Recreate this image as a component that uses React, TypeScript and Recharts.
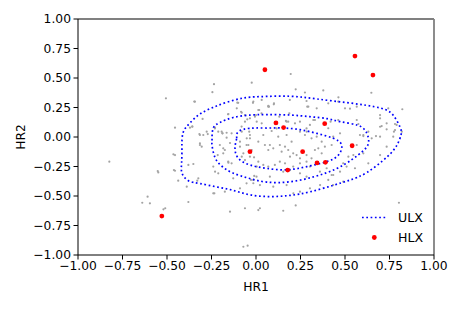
import React from 'react';
import { ScatterChart, Scatter, XAxis, YAxis, ReferenceLine, Legend } from 'recharts';

const axisTicks = [-1, -0.75, -0.5, -0.25, 0, 0.25, 0.5, 0.75, 1];

const ulxPoints: [number, number][] = [
  [-0.10, 0.29], [-0.015, 0.30], [0.10, 0.277], [0.19, 0.314], [0.284, 0.305], [0.341, 0.243], [0.462, 0.30], [0.50, 0.243],
  [-0.30, 0.153], [-0.062, 0.186], [0.018, 0.229], [0.069, 0.257], [0.187, 0.201], [0.131, 0.172], [0.168, 0.136], [0.181, 0.13],
  [0.247, 0.13], [0.284, 0.073], [0.303, 0.102], [0.331, 0.144], [0.419, 0.13], [0.462, 0.144], [-0.231, 0.073], [-0.212, 0.045],
  [-0.188, 0.031], [-0.165, -0.006], [-0.137, 0.031], [-0.081, 0.088], [-0.062, 0.13], [-0.034, 0.158], [-0.006, 0.172], [0.031, 0.201],
  [0.041, 0.017], [0.088, 0.051], [0.116, 0.073], [0.125, 0.003], [0.172, 0.017], [0.20, -0.04], [0.247, 0.045], [0.275, 0.017],
  [0.312, -0.011], [0.341, 0.003], [0.369, -0.04], [0.387, -0.082], [0.425, -0.068], [0.434, 0.003], [-0.09, -0.04], [-0.053, -0.068],
  [-0.034, -0.011], [0.013, -0.04], [0.05, -0.068], [0.078, -0.068], [0.069, -0.11], [0.097, -0.096], [0.134, -0.068], [0.163, -0.082],
  [0.144, -0.124], [0.181, -0.11], [0.209, -0.138], [0.191, -0.167], [0.228, -0.153], [0.247, -0.181], [0.284, -0.153], [0.331, -0.11],
  [0.35, -0.096], [0.369, -0.138], [-0.184, -0.096], [-0.203, -0.068], [-0.175, -0.11], [-0.156, -0.209], [-0.137, -0.223], [-0.071, -0.138],
  [-0.062, -0.195], [-0.034, -0.167], [0.013, -0.209], [0.041, -0.237], [0.069, -0.251], [0.106, -0.237], [0.134, -0.209], [0.163, -0.223],
  [0.209, -0.251], [0.247, -0.223], [0.284, -0.209], [0.303, -0.251], [0.312, -0.181], [0.397, -0.265], [0.425, -0.322], [0.472, -0.294],
  [0.509, -0.251], [-0.296, 0.017], [-0.315, -0.068], [-0.24, -0.251], [-0.212, -0.308], [-0.128, -0.35], [-0.015, -0.364], [0.003, -0.336],
  [0.078, -0.336], [0.153, -0.294], [0.191, -0.28], [0.247, -0.308], [0.284, -0.336], [0.359, -0.294], [0.406, -0.364], [0.49, -0.378],
  [-0.24, -0.477], [-0.175, -0.463], [-0.09, -0.435], [-0.053, -0.393], [0.022, -0.407], [0.097, -0.421], [0.172, -0.407], [0.247, -0.463],
  [0.303, -0.435],
  [-0.506, 0.328], [-0.455, 0.079], [-0.347, 0.30], [-0.245, 0.38], [-0.236, 0.448], [-0.024, 0.46], [-0.017, 0.29], [-0.371, 0.079],
  [-0.358, 0.09], [-0.315, 0.017], [-0.271, 0.025], [-0.23, 0.079], [-0.189, 0.031], [-0.157, 0.192], [-0.146, -0.051], [-0.108, 0.243],
  [-0.08, 0.206], [-0.038, 0.045], [-0.052, -0.011], [0.004, 0.13],
  [0.195, 0.534], [0.223, 0.404], [0.275, 0.377], [0.378, 0.395], [0.463, 0.336], [0.648, 0.375], [0.822, 0.235], [0.743, 0.243],
  [0.697, 0.186], [0.697, 0.158], [0.781, 0.11], [0.819, 0.045], [0.775, 0.045], [0.734, 0.065], [0.706, 0.093], [0.674, 0.008],
  [0.631, 0.045], [0.603, 0.008], [0.566, 0.144], [0.575, 0.11], [0.528, 0.24], [0.566, 0.257], [0.406, 0.285], [0.294, 0.257],
  [0.101, 0.285], [0.069, 0.263], [0.032, 0.314], [0.013, 0.229],
  [0.803, -0.557], [0.022, -0.604], [0.153, -0.625], [0.223, -0.58],
  [-0.824, -0.209], [-0.549, -0.30], [-0.552, -0.288], [-0.639, -0.557], [-0.609, -0.506], [-0.596, -0.562], [-0.51, -0.604], [-0.455, -0.153],
  [-0.455, -0.286], [-0.437, -0.37], [-0.389, -0.421], [-0.38, -0.551], [-0.38, -0.237], [-0.352, -0.229], [-0.324, -0.35], [-0.33, -0.37],
  [-0.305, -0.082], [-0.23, -0.294], [-0.234, -0.477], [-0.146, -0.633], [-0.062, -0.604], [-0.071, -0.93], [-0.047, -0.921], [-0.155, -0.218],
  [-0.184, -0.138], [-0.215, -0.153], [-0.08, -0.167], [-0.09, -0.082], [-0.024, -0.11], [-0.011, -0.172], [0.004, -0.251], [-0.01, -0.33],
  [-0.028, -0.364], [-0.015, -0.392], [0.013, -0.619], [-0.043, -0.068],
  [-0.464, -0.147], [-0.461, -0.28], [-0.52, -0.613], [-0.315, -0.053],
  [-0.343, 0.299], [-0.105, 0.291], [0.073, 0.257], [-0.155, 0.195], [-0.084, 0.214], [0, 0.186], [0.032, 0.116], [-0.049, 0.15],
  [-0.358, 0.087], [-0.277, 0.045], [-0.318, 0.025], [-0.193, 0.045], [-0.165, 0.036], [-0.08, 0.045], [-0.034, 0.017],
  [0.288, 0.257], [0.79, 0.102], [0.734, 0.116], [0.697, 0.087], [0.172, 0.13], [0.219, 0.116], [0.322, 0.144], [0.406, 0.074],
  [0.472, 0.031], [0.584, 0.017], [0.697, 0.003], [0.781, 0.059], [0.285, 0.045],
  [0.603, 0.017], [0.65, -0.011], [0.566, -0.068], [0.547, -0.153], [0.603, -0.138], [0.631, -0.223], [0.519, -0.167], [0.49, -0.223],
  [0.434, -0.322], [0.556, -0.265], [0.697, -0.153], [0.734, -0.082], [0.771, 0.003], [0.36, -0.407], [0.21, -0.477], [0.433, -0.407],
];

const hlxPoints: [number, number][] = [
  [0.05, 0.57], [0.556, 0.686], [0.657, 0.525], [0.112, 0.119], [0.155, 0.08], [0.386, 0.113],
  [-0.034, -0.124], [0.262, -0.124], [0.54, -0.074], [0.178, -0.28], [0.343, -0.22], [0.39, -0.215], [-0.529, -0.67],
];

const contourOuter: [number, number][] = [
  [-0.416, -0.11], [-0.41, 0.034], [-0.371, 0.119], [-0.315, 0.195], [-0.242, 0.25], [-0.163, 0.295], [-0.073, 0.33], [0.022, 0.342],
  [0.191, 0.345], [0.343, 0.322], [0.528, 0.288], [0.697, 0.246], [0.77, 0.186], [0.809, 0.085], [0.815, 0.02], [0.792, -0.068],
  [0.736, -0.169], [0.624, -0.3], [0.528, -0.365], [0.433, -0.41], [0.303, -0.465], [0.19, -0.495], [0.079, -0.505], [-0.034, -0.49],
  [-0.129, -0.452], [-0.221, -0.423], [-0.315, -0.395], [-0.38, -0.37], [-0.416, -0.305], [-0.418, -0.22], [-0.416, -0.11],
];

const contourMiddle: [number, number][] = [
  [-0.247, -0.03], [-0.24, 0.076], [-0.20, 0.125], [-0.129, 0.165], [-0.034, 0.186], [0.062, 0.19], [0.191, 0.186], [0.303, 0.172],
  [0.40, 0.155], [0.472, 0.13], [0.57, 0.10], [0.62, 0.04], [0.632, -0.05], [0.60, -0.12], [0.54, -0.19], [0.45, -0.27],
  [0.33, -0.335], [0.19, -0.38], [0.06, -0.382], [-0.04, -0.35], [-0.13, -0.305], [-0.19, -0.25], [-0.23, -0.175], [-0.247, -0.07],
  [-0.247, -0.03],
];

const contourInner: [number, number][] = [
  [-0.108, -0.011], [-0.099, 0.045], [-0.034, 0.074], [0.06, 0.076], [0.153, 0.076], [0.247, 0.062], [0.341, 0.031], [0.434, -0.011],
  [0.481, -0.068], [0.463, -0.153], [0.397, -0.209], [0.285, -0.251], [0.172, -0.278], [0.06, -0.266], [-0.034, -0.237], [-0.099, -0.181],
  [-0.118, -0.096], [-0.108, -0.011],
];

const legendLabels = ['ULX', 'HLX'];

const toData = (arr: [number, number][]) => arr.map(([x, y]) => ({ x, y }));
const fmt = (v: number) => (v < 0 ? '\u2212' : '') + Math.abs(v).toFixed(2);

const FONT = 'DejaVu Sans';
const FS = 12.3;
const BLUE = '#0000ff';
const DOT_LINE = { stroke: BLUE, strokeWidth: 1.7, strokeDasharray: '1.7 2.6', fill: 'none' };

const GrayDot = (p: any) => <circle cx={p.cx} cy={p.cy} r={1.1} fill="#a3a3a3" />;
const RedDot = (p: any) => <circle cx={p.cx} cy={p.cy} r={2.4} fill="#ff0000" />;
const NoDot = () => <g />;

const LegendBox = () => (
  <svg width={100} height={45} style={{ display: 'block', overflow: 'visible' }}>
    <line x1={7} y1={11.5} x2={32} y2={11.5} {...DOT_LINE} />
    <text x={43} y={11.5} dominantBaseline="central" fontFamily={FONT} fontSize={12.6} fill="#000">{legendLabels[0]}</text>
    <circle cx={19.3} cy={31.5} r={2.4} fill="#ff0000" />
    <text x={43} y={31} dominantBaseline="central" fontFamily={FONT} fontSize={12.6} fill="#000">{legendLabels[1]}</text>
  </svg>
);

export default function App() {
  return (
    <div style={{ position: 'absolute', left: 0, top: 0 }}>
      <ScatterChart width={463} height={309} margin={{ top: 19, right: 29, bottom: 0, left: 0 }}>
        <XAxis
          type="number"
          dataKey="x"
          domain={[-1, 1]}
          ticks={axisTicks}
          interval={0}
          tickFormatter={fmt}
          height={54}
          tickSize={4.5}
          tickMargin={2.2}
          axisLine={{ stroke: '#000', strokeWidth: 1 }}
          tickLine={{ stroke: '#000' }}
          tick={{ fill: '#000', fontSize: FS, fontFamily: FONT }}
          label={{ value: 'HR1', position: 'insideBottom', offset: 18, fill: '#000', fontSize: FS, fontFamily: FONT }}
        />
        <YAxis
          type="number"
          dataKey="y"
          domain={[-1, 1]}
          ticks={axisTicks}
          interval={0}
          tickFormatter={fmt}
          width={78}
          tickSize={4.5}
          tickMargin={2.5}
          axisLine={{ stroke: '#000', strokeWidth: 1 }}
          tickLine={{ stroke: '#000' }}
          tick={{ fill: '#000', fontSize: FS, fontFamily: FONT }}
          label={(props: any) => {
            const vb = props.viewBox || { x: 0, y: 19, width: 78, height: 236 };
            const cx = vb.x + 20.5;
            const cy = vb.y + vb.height / 2;
            return (
              <text x={cx} y={cy} transform={`rotate(-90 ${cx} ${cy})`} textAnchor="middle" dominantBaseline="central" fontFamily={FONT} fontSize={FS} fill="#000">HR2</text>
            );
          }}
        />
        <Scatter data={toData(ulxPoints)} shape={GrayDot} isAnimationActive={false} />
        <Scatter data={toData(contourOuter)} fill={BLUE} line={DOT_LINE} lineJointType="natural" shape={NoDot} isAnimationActive={false} />
        <Scatter data={toData(contourMiddle)} fill={BLUE} line={DOT_LINE} lineJointType="natural" shape={NoDot} isAnimationActive={false} />
        <Scatter data={toData(contourInner)} fill={BLUE} line={DOT_LINE} lineJointType="natural" shape={NoDot} isAnimationActive={false} />
        <Scatter data={toData(hlxPoints)} shape={RedDot} isAnimationActive={false} />
        <ReferenceLine y={1} stroke="#808080" strokeWidth={1.8} />
        <ReferenceLine x={1} stroke="#808080" strokeWidth={1.8} />
        <Legend
          layout="vertical"
          align="center"
          verticalAlign="middle"
          wrapperStyle={{ position: 'absolute', left: 355, top: 206, width: 100, height: 45 }}
          content={() => <LegendBox />}
        />
      </ScatterChart>
    </div>
  );
}
